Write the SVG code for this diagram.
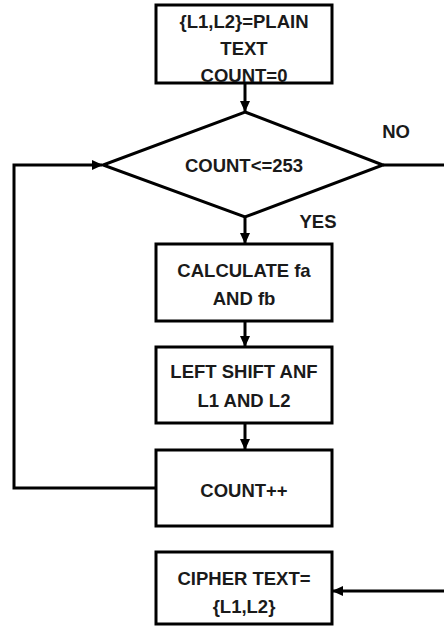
<svg xmlns="http://www.w3.org/2000/svg" width="444" height="627" viewBox="0 0 444 627">
  <style>
    .box { fill: #ffffff; stroke: #000000; stroke-width: 3; }
    .lbl { font-family: "Liberation Sans", Arial, sans-serif; font-weight: bold; font-size: 18.5px; fill: #1a1a1a; text-anchor: middle; }
    .wire { fill: none; stroke: #000000; stroke-width: 3; }
  </style>
  <defs>
    <marker id="arrow" markerUnits="userSpaceOnUse" markerWidth="12" markerHeight="12" refX="10" refY="6" orient="auto">
      <path d="M0,1 L11,6 L0,11 Z" fill="#000000"/>
    </marker>
  </defs>
  <rect width="444" height="627" fill="#ffffff"/>

  <g id="connectors">
    <line class="wire" x1="245" y1="83" x2="245" y2="111" marker-end="url(#arrow)"/>
    <line class="wire" x1="245" y1="217" x2="245" y2="243" marker-end="url(#arrow)"/>
    <line class="wire" x1="245" y1="321" x2="245" y2="346" marker-end="url(#arrow)"/>
    <line class="wire" x1="245" y1="423" x2="245" y2="449" marker-end="url(#arrow)"/>
    <polyline class="wire" points="156,488 14,488 14,165 102,165" marker-end="url(#arrow)"/>
    <line class="wire" x1="383" y1="165" x2="446" y2="165"/>
    <line class="wire" x1="446" y1="591" x2="333" y2="591" marker-end="url(#arrow)"/>
    <text class="lbl" x="396" y="138">NO</text>
    <text class="lbl" x="318" y="228">YES</text>
  </g>

  <g id="start">
    <rect class="box" x="156" y="5" width="176" height="78"/>
    <text class="lbl" x="244" y="28">{L1,L2}=PLAIN</text>
    <text class="lbl" x="244" y="55">TEXT</text>
    <text class="lbl" x="244" y="82">COUNT=0</text>
  </g>

  <g id="check">
    <polygon class="box" points="245,112 383,165 245,217 103,165"/>
    <text class="lbl" x="244" y="172">COUNT&lt;=253</text>
  </g>

  <g id="calc">
    <rect class="box" x="156" y="244" width="176" height="77"/>
    <text class="lbl" x="244" y="277">CALCULATE fa</text>
    <text class="lbl" x="244" y="305">AND fb</text>
  </g>

  <g id="shift">
    <rect class="box" x="156" y="347" width="176" height="76"/>
    <text class="lbl" x="244" y="378">LEFT SHIFT ANF</text>
    <text class="lbl" x="244" y="407">L1 AND L2</text>
  </g>

  <g id="increment">
    <rect class="box" x="156" y="450" width="176" height="76"/>
    <text class="lbl" x="244" y="497">COUNT++</text>
  </g>

  <g id="output">
    <rect class="box" x="156" y="552" width="176" height="72"/>
    <text class="lbl" x="244" y="585">CIPHER TEXT=</text>
    <text class="lbl" x="244" y="613">{L1,L2}</text>
  </g>
</svg>
